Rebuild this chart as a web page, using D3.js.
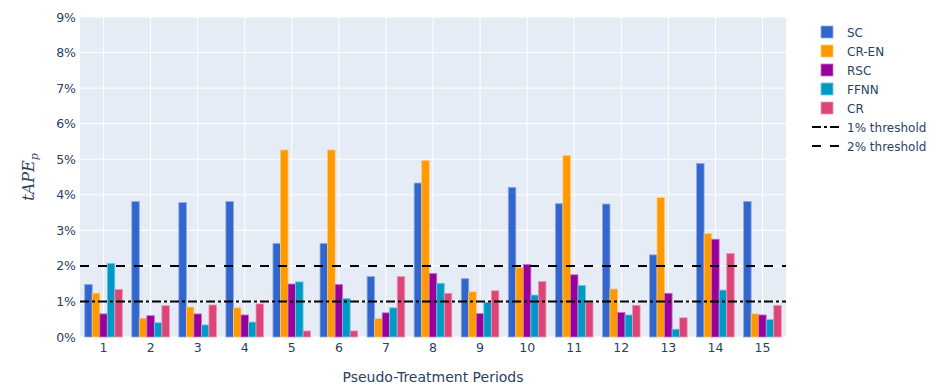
<!DOCTYPE html>
<html>
<head>
<meta charset="utf-8">
<script src="https://cdn.jsdelivr.net/npm/d3@7"></script>
<style>
  body { margin: 0; background: #fff; }
  svg text { font-family: "DejaVu Sans", Verdana, sans-serif; fill: #2a3f5f; }
</style>
</head>
<body>
<svg id="chart"></svg>
<script>
// data (values in %)
const periods = ["1","2","3","4","5","6","7","8","9","10","11","12","13","14","15"];
const seriesNames = ["SC", "CR-EN", "RSC", "FFNN", "CR"];
const seriesColors = ["#3366CC", "#FF9900", "#990099", "#0099C6", "#DD4477"];
const scValues   = [1.48, 3.81, 3.78, 3.81, 2.63, 2.63, 1.70, 4.33, 1.64, 4.21, 3.75, 3.74, 2.31, 4.88, 3.81];
const crenValues = [1.23, 0.53, 0.84, 0.82, 5.26, 5.26, 0.52, 4.96, 1.27, 1.95, 5.10, 1.35, 3.92, 2.91, 0.65];
const rscValues  = [0.65, 0.60, 0.65, 0.62, 1.49, 1.48, 0.68, 1.79, 0.66, 2.04, 1.75, 0.69, 1.23, 2.75, 0.62];
const ffnnValues = [2.07, 0.40, 0.34, 0.42, 1.55, 1.08, 0.82, 1.51, 0.97, 1.18, 1.45, 0.62, 0.22, 1.32, 0.49];
const crValues   = [1.34, 0.88, 0.90, 0.93, 0.17, 0.17, 1.70, 1.23, 1.30, 1.56, 0.97, 0.89, 0.54, 2.35, 0.89];
const thresholds = [
  { name: "1% threshold", value: 1, dash: "9,3,3,3" },
  { name: "2% threshold", value: 2, dash: "9,9" }
];
const yTicks = [0,1,2,3,4,5,6,7,8,9];

const allSeries = [scValues, crenValues, rscValues, ffnnValues, crValues];

const width = 936, height = 392;
const margin = { top: 17, right: 150, bottom: 55, left: 80 };
const plotW = width - margin.left - margin.right;
const plotH = height - margin.top - margin.bottom;

const svg = d3.select("#chart").attr("width", width).attr("height", height);
const g = svg.append("g").attr("transform", `translate(${margin.left},${margin.top})`);

const x = d3.scaleBand().domain(periods).range([0, plotW]).paddingInner(0.2).paddingOuter(0.1);
const xSub = d3.scaleBand().domain(seriesNames).range([0, x.bandwidth()]);
const y = d3.scaleLinear().domain([0, 9]).range([plotH, 0]);

g.append("rect").attr("width", plotW).attr("height", plotH).attr("fill", "#E5ECF6");

// grid
g.append("g").selectAll("line").data(yTicks).enter().append("line")
  .attr("x1", 0).attr("x2", plotW)
  .attr("y1", d => y(d)).attr("y2", d => y(d))
  .attr("stroke", "#fff").attr("stroke-width", 1);
g.append("g").selectAll("line").data(periods).enter().append("line")
  .attr("x1", d => x(d) + x.bandwidth() / 2).attr("x2", d => x(d) + x.bandwidth() / 2)
  .attr("y1", 0).attr("y2", plotH)
  .attr("stroke", "#fff").attr("stroke-width", 1);

// bars
seriesNames.forEach((name, si) => {
  const color = seriesColors[si];
  g.append("g").selectAll("rect").data(allSeries[si]).enter().append("rect")
    .attr("x", (d, i) => x(periods[i]) + xSub(name))
    .attr("width", xSub.bandwidth())
    .attr("y", d => y(d))
    .attr("height", d => y(0) - y(d))
    .attr("fill", color)
    .attr("stroke", d3.interpolateRgb(color, "#ffffff")(0.45))
    .attr("stroke-width", 0.8);
});

// threshold lines
thresholds.forEach(t => {
  g.append("line")
    .attr("x1", 0).attr("x2", plotW)
    .attr("y1", y(t.value)).attr("y2", y(t.value))
    .attr("stroke", "#000").attr("stroke-width", 2)
    .attr("stroke-dasharray", t.dash);
});

// axes
const yAxis = g.append("g").call(d3.axisLeft(y).tickValues(yTicks).tickFormat(d => d + "%").tickSize(0).tickPadding(4));
yAxis.select(".domain").remove();
yAxis.selectAll("text").style("font-size", "12.5px").attr("fill", "#2a3f5f");

const xAxis = g.append("g").attr("transform", `translate(0,${plotH})`)
  .call(d3.axisBottom(x).tickSize(0).tickPadding(6));
xAxis.select(".domain").remove();
xAxis.selectAll("text").style("font-size", "12.5px").attr("fill", "#2a3f5f");

svg.append("text")
  .attr("x", margin.left + plotW / 2).attr("y", 382)
  .attr("text-anchor", "middle").style("font-size", "14px")
  .text("Pseudo-Treatment Periods");

const yTitle = svg.append("text")
  .attr("transform", `translate(34,${margin.top + plotH / 2}) rotate(-90)`)
  .attr("text-anchor", "middle")
  .style("font-family", "'DejaVu Serif', 'Liberation Serif', serif")
  .style("font-style", "italic").style("font-size", "16px");
yTitle.append("tspan").text("tAPE");
yTitle.append("tspan").attr("dy", 4).style("font-size", "11px").text("p");

// legend
const legend = svg.append("g").attr("transform", "translate(810,32)");
seriesNames.forEach((name, i) => {
  const row = legend.append("g").attr("transform", `translate(0,${i * 19})`);
  row.append("rect").attr("x", 11).attr("y", -6).attr("width", 12).attr("height", 12)
    .attr("fill", seriesColors[i])
    .attr("stroke", d3.interpolateRgb(seriesColors[i], "#ffffff")(0.45)).attr("stroke-width", 0.8);
  row.append("text").attr("x", 37).attr("y", 4.5).style("font-size", "12px").text(name);
});
thresholds.forEach((t, j) => {
  const row = legend.append("g").attr("transform", `translate(0,${(seriesNames.length + j) * 19})`);
  row.append("line").attr("x1", 2).attr("x2", 30).attr("y1", 0).attr("y2", 0)
    .attr("stroke", "#000").attr("stroke-width", 2).attr("stroke-dasharray", t.dash);
  row.append("text").attr("x", 37).attr("y", 4.5).style("font-size", "12px").text(t.name);
});
</script>
</body>
</html>
